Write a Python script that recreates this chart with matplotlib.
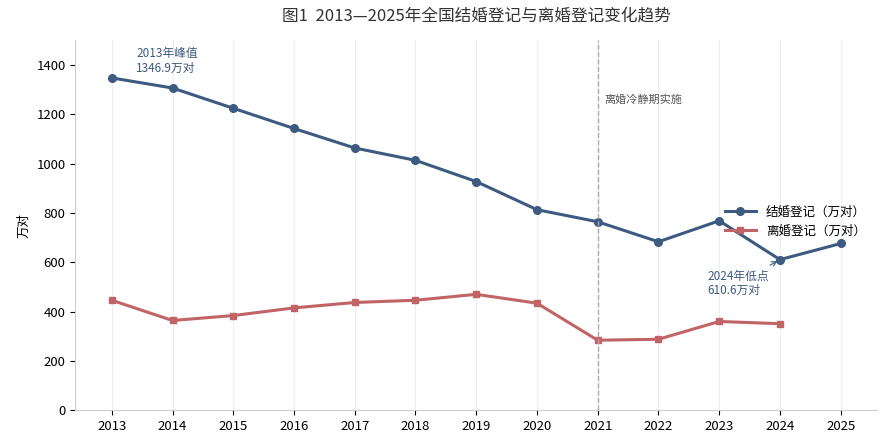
import matplotlib.pyplot as plt

plt.rcParams['font.family'] = ['Noto Sans CJK SC', 'DejaVu Sans']

years = list(range(2013, 2026))
marriage = [1346.9, 1306, 1224, 1142, 1063, 1013, 927, 813, 764, 683, 768, 610.6, 676]
div_years = list(range(2013, 2025))
divorce = [446, 364, 384, 415, 437, 446, 470, 434, 284, 288, 360, 351]

blue = '#3d5a80'
red = '#c06466'

fig, ax = plt.subplots(figsize=(8.86, 4.46), dpi=100)
ax.plot(years, marriage, color=blue, lw=2.2, marker='o', ms=5.5, label='结婚登记（万对）')
ax.plot(div_years, divorce, color=red, lw=2.2, marker='s', ms=5, label='离婚登记（万对）')

ax.axvline(2021, color='#aaaaaa', ls='--', lw=1)
ax.text(2021.1, 1260, '离婚冷静期实施', fontsize=8, color='#555555', va='center')
ax.annotate('2013年峰值\n1346.9万对', xy=(2013, 1346.9), xytext=(2013.4, 1370),
            fontsize=8.5, color=blue)
ax.annotate('2024年低点\n610.6万对', xy=(2024, 610.6), xytext=(2022.8, 470),
            fontsize=8.5, color=blue,
            arrowprops=dict(arrowstyle='->', color=blue, lw=0.8))

ax.set_xlim(2012.4, 2025.6)
ax.set_ylim(0, 1500)
ax.set_xticks(years)
ax.set_yticks(range(0, 1401, 200))
ax.set_ylabel('万对', fontsize=9)
ax.tick_params(labelsize=9.5)
ax.grid(axis='x', color='#eeeeee')
for s in ['top', 'right']:
    ax.spines[s].set_visible(False)
for s in ['left', 'bottom']:
    ax.spines[s].set_color('#cccccc')
ax.legend(loc='center right', bbox_to_anchor=(1.0, 0.51), frameon=False, fontsize=9,
          handlelength=2.5)
ax.set_title('图1  2013—2025年全国结婚登记与离婚登记变化趋势', fontsize=12, color='#333333', pad=14)

plt.subplots_adjust(left=0.085, right=0.99, top=0.91, bottom=0.08)
plt.savefig('out.png')
